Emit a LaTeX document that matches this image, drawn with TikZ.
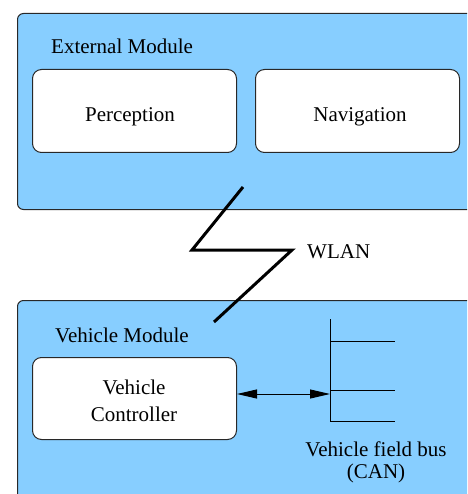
\documentclass[tikz,border=0pt]{standalone}
\usepackage{fontspec}
\setmainfont{Liberation Serif}
\usetikzlibrary{arrows.meta}
\definecolor{ltblue}{RGB}{135,206,255}
\definecolor{edge}{RGB}{40,40,40}
\begin{document}
\begin{tikzpicture}[x=1pt,y=-1pt,
  module/.style={draw=edge,fill=ltblue,rounded corners=6pt,line width=1pt,anchor=north west,inner sep=0pt},
  unit/.style={draw=edge,fill=white,rounded corners=9pt,line width=1pt,anchor=north west,inner sep=0pt},
  lbl/.style={font=\fontsize{21}{26}\selectfont,inner sep=0pt,anchor=base},
  bolt/.style={line width=3pt,black},
  bus/.style={line width=1pt,black}]
\useasboundingbox (0,0) rectangle (467,494);
\clip (0,0) rectangle (467,494);
% modules
\node[module,minimum width=480pt,minimum height=196pt] (ext) at (17,13) {};
\node[module,minimum width=480pt,minimum height=220pt] (veh) at (17,300) {};
\node[lbl,anchor=base west] (extl) at (51,54) {External Module};
\node[lbl,anchor=base west] (vehl) at (55,342) {Vehicle Module};
% units
\node[unit,minimum width=204pt,minimum height=83pt] (perc) at (32,69) {};
\node[lbl] (percl) at (130,122) {Perception};
\node[unit,minimum width=204pt,minimum height=83pt] (nav) at (255,69) {};
\node[lbl] (navl) at (360,122) {Navigation};
\node[unit,minimum width=204pt,minimum height=82pt] (ctrl) at (32,357) {};
\node[lbl] (ctrll1) at (134,394) {Vehicle};
\node[lbl] (ctrll2) at (134,421) {Controller};
% wireless link
\coordinate (b1) at (243,187);
\coordinate (b2) at (192,250);
\coordinate (b3) at (292,250);
\coordinate (b4) at (214,322);
\draw[bolt] (b1) -- (b2) -- (b3) -- (b4);
\node[lbl,anchor=base west] (wlan) at (307,258) {WLAN};
% field bus
\coordinate (bt) at (330,319);
\coordinate (bb) at (330,421);
\coordinate (h1) at (395,341);
\coordinate (h2) at (395,390);
\coordinate (h3) at (395,421);
\draw[bus] (bt) -- (bb);
\draw[bus] (bt |- h1) -- (h1);
\draw[bus] (bt |- h2) -- (h2);
\draw[bus] (bb) -- (h3);
\coordinate (ba) at (330,394);
\draw[line width=1pt,{Triangle[length=20pt,width=9pt]}-{Triangle[length=20pt,width=9pt]}] (ctrl.east |- ba) -- (ba);
\node[lbl] (busl1) at (376,456) {Vehicle field bus};
\node[lbl] (busl2) at (376,478) {(CAN)};
\end{tikzpicture}
\end{document}
